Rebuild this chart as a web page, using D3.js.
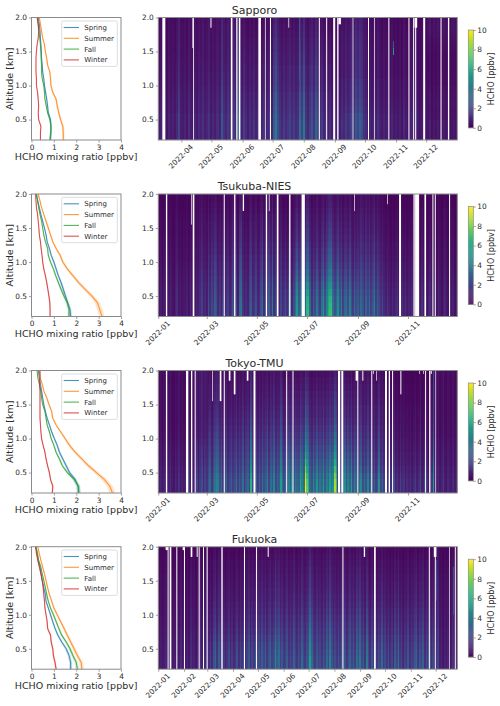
<!DOCTYPE html>
<html>
<head>
<meta charset="utf-8">
<script src="https://cdn.jsdelivr.net/npm/d3@7"></script>
<style>
  html, body { margin: 0; padding: 0; background: #fff; }
  svg { display: block; }
  text { font-family: "DejaVu Sans", sans-serif; fill: #2b2b2b; }
</style>
</head>
<body>
<svg id="fig" width="500" height="706"></svg>
<script>
// Altitude grid of the mean profiles, km
const altitudes = [0.2,0.3,0.4,0.5,0.6,0.7,0.8,0.9,1.0,1.1,1.2,1.3,1.4,1.5,1.6,1.7,1.8,1.9,2.0];

// Seasonal mean HCHO mixing ratio, ppbv, one value per altitude
const sapporoSpring = [.85,.87,.87,.85,.75,.72,.68,.63,.58,.55,.50,.48,.45,.44,.42,.40,.38,.35,.30];
const sapporoSummer = [1.42,1.42,1.40,1.30,1.22,1.15,1.10,.95,.87,.85,.82,.72,.68,.62,.58,.50,.45,.40,.35];
const sapporoFall   = [.82,.85,.87,.82,.72,.66,.60,.58,.55,.48,.45,.45,.43,.42,.40,.37,.33,.30,.25];
const sapporoWinter = [.40,.40,.42,.32,.30,.32,.30,.27,.22,.22,.20,.20,.20,.22,.25,.30,.32,.30,.26];

const tsukubaSpring = [1.75,1.72,1.62,1.52,1.42,1.32,1.20,1.10,1.00,.88,.80,.70,.65,.58,.50,.42,.35,.28,.22];
const tsukubaSummer = [3.15,3.05,2.95,2.70,2.40,2.10,1.85,1.60,1.40,1.28,1.10,.95,.85,.75,.65,.55,.45,.38,.30];
const tsukubaFall   = [1.67,1.68,1.60,1.45,1.32,1.20,1.08,.98,.85,.75,.72,.62,.55,.50,.45,.38,.32,.27,.22];
const tsukubaWinter = [.83,.83,.82,.78,.73,.68,.62,.55,.50,.47,.43,.40,.35,.33,.30,.27,.22,.20,.18];

const tokyoSpring = [2.10,2.08,1.95,1.70,1.55,1.40,1.25,1.15,1.02,.90,.80,.70,.62,.55,.50,.45,.40,.35,.30];
const tokyoSummer = [3.62,3.50,3.25,2.90,2.55,2.25,1.95,1.70,1.50,1.30,1.10,.95,.90,.78,.68,.55,.48,.38,.35];
const tokyoFall   = [2.12,2.10,1.90,1.60,1.38,1.25,1.10,1.00,.88,.80,.70,.65,.60,.50,.45,.42,.35,.28,.25];
const tokyoWinter = [.93,.95,.85,.80,.72,.65,.60,.52,.45,.42,.40,.38,.38,.38,.38,.38,.36,.38,.38];

const fukuokaSpring = [1.75,1.75,1.68,1.55,1.35,1.18,1.05,.95,.85,.75,.65,.62,.55,.48,.43,.38,.30,.25,.20];
const fukuokaSummer = [2.25,2.22,2.05,1.90,1.75,1.60,1.45,1.30,1.15,1.00,.90,.80,.72,.65,.58,.50,.42,.35,.28];
const fukuokaFall   = [2.05,2.00,1.85,1.72,1.55,1.35,1.22,1.10,.98,.85,.75,.68,.62,.55,.48,.42,.32,.27,.20];
const fukuokaWinter = [1.10,1.05,.98,.95,.88,.85,.72,.70,.65,.60,.58,.55,.52,.48,.42,.35,.28,.22,.18];

// Near-surface HCHO in two-day bins, ppbv, one row per month
const sapporoDaily = [.7,.9,.6,.8,.5,1.0,.7,.9,.6,1.1,2.0,.8,
  .7,1.0,.6,1.3,.8,.6,1.1,.7,1.2,.9,1.4,.8,1.0,1.5,.7,
  1.1,.8,1.3,.9,2.6,1.4,1.0,1.7,1.2,.9,1.6,1.1,3.0,1.4,.9,
  1.9,1.2,.8,1.4,1.0,1.6,.9,1.3,.8,1.1,1.5,.9,1.2,1.6,1.0,
  3.0,4.0,2.4,1.6,1.1,1.8,1.2,1.6,2.0,1.3,1.8,1.2,1.5,3.6,2.0,4.0,
  1.6,1.1,1.9,2.6,1.5,3.2,2.2,1.4,1.8,1.0,1.5,.9,1.3,.8,1.1,
  .9,1.3,.7,1.4,1.0,1.7,1.1,1.5,2.2,1.6,2.6,2.0,2.9,2.4,1.4,
  1.2,.8,1.0,.7,1.2,.8,1.4,.9,.6,1.0,.7,.9,.5,1.1,.6,.8,
  .6,.9,.5,1.2,.7,.5,.8,1.0,.6,1.6,.6,.5,.7,.9,.5,
  .6,.9,.4,.7,.5,.8,.4,.6,.7,.5,.8,.4,.6,.7,.5];

const tsukubaDaily = [.5,.8,.4,.7,.9,.5,.6,1.0,.6,.4,.9,1.3,.6,.8,.5,.7,
  .6,.9,.5,1.1,.7,1.4,.6,.9,.8,1.3,1.9,.9,1.2,.8,
  2.6,1.3,2.2,1.6,3.0,2.4,1.2,1.7,.9,2.0,1.1,1.5,1.9,1.0,1.6,2.6,
  1.3,2.0,.9,3.4,3.8,1.6,.9,1.4,1.0,2.2,2.9,1.3,1.7,2.4,1.1,
  1.4,2.6,3.6,1.2,2.2,1.5,3.2,1.7,4.4,1.3,2.0,3.4,1.0,2.2,1.2,
  1.6,2.6,1.4,3.0,1.8,1.2,2.4,3.6,5.4,3.0,4.2,2.4,5.6,3.2,6.6,
  6.8,3.6,1.6,3.0,2.2,4.0,2.6,1.8,3.8,5.2,2.6,4.6,6.2,6.8,7.0,3.8,
  2.6,3.4,5.0,2.8,4.2,2.0,3.4,3.8,2.4,4.4,2.6,1.8,3.6,2.4,3.0,
  2.0,3.4,2.6,1.6,3.2,2.2,3.6,1.8,2.8,4.2,1.8,3.0,2.2,1.4,2.0,
  1.2,.9,1.5,1.0,.7,1.3,.8,1.1,1.6,.8,.6,1.2,.9,1.4,.7,1.0,
  .8,1.2,.7,.5,1.3,.9,.6,1.4,.8,1.0,.5,.9,1.3,.7,.6,
  .9,.5,1.2,.7,.4,.9,1.1,.6,.5,1.0,.7,.9,.4,.8,.6];

const tokyoDaily = [.7,1.0,.5,.9,1.2,.6,.8,1.3,.7,.5,1.1,.8,1.4,.6,.9,.7,
  1.0,.6,1.3,.8,1.5,.7,1.0,2.0,.9,1.7,2.4,1.2,2.0,1.5,
  2.6,3.4,1.6,2.8,3.8,4.6,4.2,2.4,3.2,1.8,2.6,3.4,1.6,2.2,3.0,1.8,
  2.4,3.6,1.8,3.0,2.2,3.8,1.6,2.8,3.4,2.0,6.4,2.4,2.0,2.8,1.8,
  3.2,2.0,3.8,2.4,3.0,4.4,2.0,3.6,2.6,4.6,2.2,3.2,2.8,5.6,3.6,
  2.4,3.6,2.8,4.4,3.0,5.0,2.6,4.2,3.4,3.2,6.0,4.6,3.6,9.9,7.6,
  6.4,3.4,2.6,4.6,3.2,5.2,2.8,4.0,3.4,5.4,3.0,4.4,3.6,5.6,4.0,5.0,
  8.8,7.0,1.6,1.6,3.0,3.8,5.0,2.8,4.4,3.2,5.6,2.6,4.6,3.4,2.4,
  3.4,4.8,2.4,3.6,2.6,4.6,2.2,3.4,2.0,3.2,1.8,2.6,5.0,2.2,3.0,
  1.8,2.8,1.4,2.2,1.2,1.8,2.4,1.1,1.6,.9,2.0,1.2,1.5,.8,1.3,1.0,
  1.4,.8,1.2,1.8,.9,1.3,2.4,.8,1.0,2.2,1.3,.7,1.1,1.6,5.4,
  1.2,.8,1.3,.6,1.0,1.6,.7,.5,1.1,.8,.6,1.2,.7,.9,.6];

const fukuokaDaily = [.6,.9,.5,.8,1.1,.6,.7,1.2,.5,.8,.6,1.0,.7,1.3,.6,.9,
  .7,1.1,.6,1.4,.8,1.0,.6,1.3,.9,1.6,.8,1.2,1.0,1.5,
  1.2,1.9,1.1,2.6,3.2,1.5,3.0,2.0,1.2,1.7,1.0,1.5,2.2,1.2,1.8,1.1,
  1.6,2.4,1.3,2.0,1.5,2.6,1.2,1.9,2.8,1.4,2.2,1.6,3.0,1.8,2.4,
  1.8,3.0,2.0,3.2,1.6,2.6,3.4,1.8,2.4,4.6,2.8,3.6,1.9,2.8,1.7,
  2.0,3.0,1.6,2.4,1.8,3.2,2.0,1.5,2.8,1.9,3.4,2.2,1.7,2.6,3.0,
  5.6,3.4,2.2,1.7,2.8,1.9,2.4,1.6,3.0,2.0,3.4,2.2,4.4,2.6,1.8,2.4,
  1.7,2.6,1.8,3.0,2.0,2.6,1.6,2.4,3.2,2.0,3.0,1.8,3.6,2.4,4.0,
  2.2,3.0,1.6,4.2,2.4,1.4,2.8,1.8,3.0,1.6,2.6,2.0,3.4,1.7,2.4,
  1.6,2.6,1.4,2.2,1.2,3.0,2.0,4.0,1.6,2.4,1.2,2.0,1.6,2.8,1.4,2.2,
  1.8,2.8,3.4,1.6,2.6,2.0,3.2,1.4,2.4,1.8,3.0,1.3,2.2,1.0,1.6,
  2.2,.8,1.2,.6,1.0,.7,1.1,.6,.9,1.5,.6,.9,.7];

// Missing observations: [day of year, length in days, lowest altitude missing in km]
const sapporoGaps = [[72,3,.2],[102.7,.8,.2],[102,1,1.55],[120,1,1.85],[140.3,1.6,.2],[145.7,1.2,.2],[148.3,1.5,.2],
  [167.7,2.6,.2],[174.3,.7,.2],[179.3,1,.2],[197.7,.7,1.85],[228,1,.2],[235.3,1,.2],[242.3,2,.2],[246.3,1.3,.2],
  [247.5,2.5,1.9],[261.7,.7,.2],[277,1,.2],[283.3,.7,.2],[297.3,1,.2],[317.3,1,.2],[322,1,.2],[323.3,2.7,1.85],
  [324,1,.2],[332,2,.2],[349.3,1,.2],[356.7,1.3,.2]];
const tsukubaGaps = [[10.3,1.6,.2],[40.8,.8,1.55],[42.9,2,.2],[80.7,1.2,.2],[93.3,1.6,.2],[103.8,1.6,1.75],[131.9,1.6,.2],
  [135.6,.8,1.75],[145.3,2,.2],[160.3,1.6,.2],[175.4,4,.2],[239.6,.8,1.75],[279.5,.8,1.85],[294.1,2.4,.2],[311.6,1.6,.2],
  [313.6,4.9,.2],[325,2,.2],[334.7,1.2,.2],[337.6,1.2,.2],[355,1.2,.2]];
const tokyoGaps = [[10.3,1.6,.2],[34.7,2.8,.2],[40.8,1.6,.2],[45.3,1.2,.2],[66.4,.8,1.55],[75.8,2,1.55],[80.7,1.2,.2],
  [86.8,2,1.85],[92.9,2,1.65],[108.7,2,1.85],[116.9,2.4,.2],[156.7,1.2,.2],[164.4,1.2,.2],[219.7,2.8,.2],[223.8,2.4,.2],
  [241.2,2.8,1.85],[243.3,1.2,.2],[249.4,1.2,1.85],[260.3,1.2,.2],[262.4,.8,1.95],[266.4,.8,1.85],[277,2.4,.2],
  [281.5,1.6,.2],[285.6,1.2,.2],[295.7,1.2,1.65],[318.5,.8,1.95],[323.4,.8,1.95],[325.8,1.2,.2],[330.7,1.6,.2],
  [332.7,1.2,1.95],[338.4,.8,.2]];
const fukuokaGaps = [[9.8,2.8,1.95],[12.2,1.2,.2],[14.7,2,.2],[22.7,1.2,.2],[30.3,2,1.95],[31.9,1.2,.2],[40,2,1.85],
  [47.2,1.2,1.85],[49.6,1.2,.2],[54.8,1.2,.2],[59.2,1.2,.2],[76.9,1.6,.2],[104.2,1.2,.2],[118.7,1.2,.2],[132.7,1.2,1.85],
  [222.7,1.2,.2],[248.4,1.6,1.85],[260.8,2,.2],[326.7,1.2,.2],[332.7,3.2,1.85],[333.9,1.2,.2],[351.2,.8,.2],[358,1.2,.2]];

// Isolated elevated layers: [day of year, layer base km, ppbv]
const sapporoPlumes = [[302,1.45,5.2],[302,1.55,2.8],
  [208,1.1,2.8],[208,1.2,2.9],[208,1.3,2.8],[208,1.4,2.9],[208,1.5,2.7],[208,1.6,2.8],[208,1.7,2.6],[208,1.8,2.7],[208,1.9,2.5]];
const fukuokaPlumes = [[335,1.2,2.2],[335,1.3,2.4],[335,1.4,2.3],[335,1.5,2.4],[335,1.6,2.5],[335,1.7,2.4],
  [356,1.0,2.4],[356,1.1,2.5],[356,1.2,2.3],[356,1.3,2.4],[356,1.4,2.3],[356,1.5,2.2],[356,1.6,2.3]];

// Category labels and tick labels
const seasons = ["Spring","Summer","Fall","Winter"];
const seasonColors = ["#1f77b4","#ff7f0e","#2ca02c","#d62728"];
const profileTicks = [0,1,2,3,4];
const altitudeTicks = [0.5,1.0,1.5,2.0];
const colorbarTicks = [0,2,4,6,8,10];
const sapporoMonths = [4,5,6,7,8,9,10,11,12];
const oddMonths = [1,3,5,7,9,11];
const allMonths = [1,2,3,4,5,6,7,8,9,10,11,12];

const sites = [
  { name:"Sapporo", top:17.5, profiles:[sapporoSpring,sapporoSummer,sapporoFall,sapporoWinter],
    daily:sapporoDaily, gaps:sapporoGaps, plumes:sapporoPlumes, months:sapporoMonths, start:68, end:366, legendTop:21 },
  { name:"Tsukuba-NIES", top:194, profiles:[tsukubaSpring,tsukubaSummer,tsukubaFall,tsukubaWinter],
    daily:tsukubaDaily, gaps:tsukubaGaps, plumes:[], months:oddMonths, start:1, end:365, legendTop:197.3 },
  { name:"Tokyo-TMU", top:370.5, profiles:[tokyoSpring,tokyoSummer,tokyoFall,tokyoWinter],
    daily:tokyoDaily, gaps:tokyoGaps, plumes:[], months:oddMonths, start:1, end:365, legendTop:374 },
  { name:"Fukuoka", top:546.7, profiles:[fukuokaSpring,fukuokaSummer,fukuokaFall,fukuokaWinter],
    daily:fukuokaDaily, gaps:fukuokaGaps, plumes:fukuokaPlumes, months:allMonths, start:1, end:361, legendTop:550 }
];

const panelH = 122.5, binDays = 2, levelKm = 0.1;
const leftX = [31.5,121], heatX = [158.3,457.3], barX = [468.3,473.3];
const spine = "#8a8a8a";
const svg = d3.select("#fig");
const color = d3.scaleSequential(d3.interpolateViridis).domain([0,10]);
const dayMs = 864e5;
const dateOf = doy => new Date(Date.UTC(2022,0,1) + (doy-1)*dayMs);
const fmt1 = d3.format(".1f");

// Season of a day of year, as an index into the profile lists
function seasonOf(doy){
  if (doy >= 60 && doy < 152) return 0;
  if (doy >= 152 && doy < 244) return 1;
  if (doy >= 244 && doy < 335) return 2;
  return 3;
}

function styleAxis(g, size){
  g.select(".domain").remove();
  g.selectAll("line").attr("stroke", spine).attr("stroke-width", .8);
  g.selectAll("text").attr("font-size", size).attr("fill", "#2b2b2b");
}

function frame(g, x, y){
  g.append("rect").attr("x", x[0]).attr("y", y).attr("width", x[1]-x[0]).attr("height", panelH)
    .attr("fill","none").attr("stroke",spine).attr("stroke-width",1);
}

sites.forEach(site => {
  const g = svg.append("g");
  const y = d3.scaleLinear().domain([0.2,2.0]).range([site.top+panelH, site.top]);

  // Seasonal profile panel
  const xp = d3.scaleLinear().domain([0,4]).range(leftX);
  const band = d3.area().y((d,i)=>y(altitudes[i])).x0(d=>xp(d*0.96)).x1(d=>xp(d*1.04));
  const line = d3.line().y((d,i)=>y(altitudes[i])).x(d=>xp(d));
  site.profiles.forEach((p,i)=>{
    g.append("path").attr("d",band(p)).attr("fill",seasonColors[i]).attr("fill-opacity",.2);
    g.append("path").attr("d",line(p)).attr("fill","none").attr("stroke",seasonColors[i])
      .attr("stroke-width",1.1).attr("stroke-opacity",.8);
  });
  frame(g, leftX, site.top);
  g.append("g").attr("transform",`translate(0,${site.top+panelH})`)
    .call(d3.axisBottom(xp).tickValues(profileTicks).tickSize(2.5).tickPadding(2).tickFormat(d3.format("d")))
    .call(a=>styleAxis(a,7.4));
  g.append("g").attr("transform",`translate(${leftX[0]},0)`)
    .call(d3.axisLeft(y).tickValues(altitudeTicks).tickSize(2.5).tickPadding(2).tickFormat(fmt1))
    .call(a=>styleAxis(a,7.4));
  g.append("text").attr("x",76.2).attr("y",site.top+panelH+20).attr("text-anchor","middle")
    .attr("font-size",9.5).text("HCHO mixing ratio [ppbv]");
  g.append("text").attr("transform",`translate(12.5,${site.top+panelH/2}) rotate(-90)`)
    .attr("text-anchor","middle").attr("font-size",9.5).text("Altitude [km]");

  // Legend
  const lg = g.append("g").attr("transform",`translate(61.7,${site.legendTop})`);
  lg.append("rect").attr("width",55.6).attr("height",45.4).attr("rx",1.5)
    .attr("fill","#fff").attr("fill-opacity",.8).attr("stroke","#d4d4d4").attr("stroke-width",.8);
  seasons.forEach((s,i)=>{
    const ly = 6.5+i*10.8;
    lg.append("line").attr("x1",2).attr("x2",17.3).attr("y1",ly).attr("y2",ly)
      .attr("stroke",seasonColors[i]).attr("stroke-width",1.1).attr("stroke-opacity",.8);
    lg.append("text").attr("x",22.6).attr("y",ly+2.5).attr("font-size",7).text(s);
  });

  // Time-height curtain
  const xh = d3.scaleUtc().domain([dateOf(site.start),dateOf(site.end)]).range(heatX);
  const clipId = "clip-"+site.name.replace(/\W/g,"");
  g.append("clipPath").attr("id",clipId).append("rect")
    .attr("x",heatX[0]).attr("y",site.top).attr("width",heatX[1]-heatX[0]).attr("height",panelH);
  const heat = g.append("g").attr("clip-path",`url(#${clipId})`);
  const cells = [];
  site.daily.forEach((v,i)=>{
    const doy = site.start + i*binDays;
    const profile = site.profiles[seasonOf(doy)];
    altitudes.slice(0,-1).forEach((alt,k)=>{
      cells.push({doy, alt, value:v*profile[k]/profile[0]});
    });
  });
  heat.append("g").attr("shape-rendering","crispEdges")
    .selectAll("rect").data(cells).join("rect")
    .attr("x",d=>xh(dateOf(d.doy)))
    .attr("width",d=>xh(dateOf(d.doy+binDays))-xh(dateOf(d.doy)))
    .attr("y",d=>y(d.alt+levelKm))
    .attr("height",d=>y(d.alt)-y(d.alt+levelKm))
    .attr("fill",d=>color(d.value));
  heat.append("g").attr("shape-rendering","crispEdges")
    .selectAll("rect").data(site.plumes).join("rect")
    .attr("x",d=>xh(dateOf(d[0]))).attr("width",d=>xh(dateOf(d[0]+1))-xh(dateOf(d[0])))
    .attr("y",d=>y(d[1]+levelKm)).attr("height",d=>y(d[1])-y(d[1]+levelKm))
    .attr("fill",d=>color(d[2]));
  heat.append("g").selectAll("rect").data(site.gaps).join("rect")
    .attr("x",d=>xh(dateOf(d[0]))).attr("width",d=>xh(dateOf(d[0]+d[1]))-xh(dateOf(d[0])))
    .attr("y",site.top).attr("height",d=>y(d[2])-site.top).attr("fill","#fff");
  frame(g, heatX, site.top);

  const monthDates = site.months.map(m=>new Date(Date.UTC(2022,m-1,1)));
  const xAxis = g.append("g").attr("transform",`translate(0,${site.top+panelH})`)
    .call(d3.axisBottom(xh).tickValues(monthDates).tickSize(2.5).tickFormat(d3.utcFormat("%Y-%m")))
    .call(a=>styleAxis(a,7.4));
  xAxis.selectAll("text").attr("text-anchor","middle").attr("dy",0).attr("y",0)
    .attr("dominant-baseline","central")
    .attr("transform","translate(-1,16.5) rotate(-45)");
  g.append("g").attr("transform",`translate(${heatX[0]},0)`)
    .call(d3.axisLeft(y).tickValues(altitudeTicks).tickSize(2.5).tickPadding(2).tickFormat(fmt1))
    .call(a=>styleAxis(a,7.4));
  g.append("text").attr("x",254.5).attr("y",site.top-3.6).attr("text-anchor","middle")
    .attr("font-size",11).text(site.name);

  // Colour bar
  const barTop = site.top+12.5, barH = 97.8;
  const yc = d3.scaleLinear().domain([0,10]).range([barTop+barH,barTop]);
  g.selectAll(null).data(d3.range(0,10,0.1)).join("rect")
    .attr("x",barX[0]).attr("width",barX[1]-barX[0])
    .attr("y",d=>yc(d+0.1)).attr("height",d=>yc(d)-yc(d+0.1)+.3)
    .attr("fill",d=>color(d+0.05));
  g.append("rect").attr("x",barX[0]).attr("y",barTop).attr("width",barX[1]-barX[0]).attr("height",barH)
    .attr("fill","none").attr("stroke",spine).attr("stroke-width",.7);
  g.append("g").attr("transform",`translate(${barX[1]},0)`)
    .call(d3.axisRight(yc).tickValues(colorbarTicks).tickSize(2.5).tickPadding(1.5).tickFormat(d3.format("d")))
    .call(a=>styleAxis(a,7.4));
  g.append("text").attr("transform",`translate(493.5,${barTop+barH/2}) rotate(-90)`)
    .attr("text-anchor","middle").attr("font-size",8).text("HCHO [ppbv]");
});
</script>
</body>
</html>
